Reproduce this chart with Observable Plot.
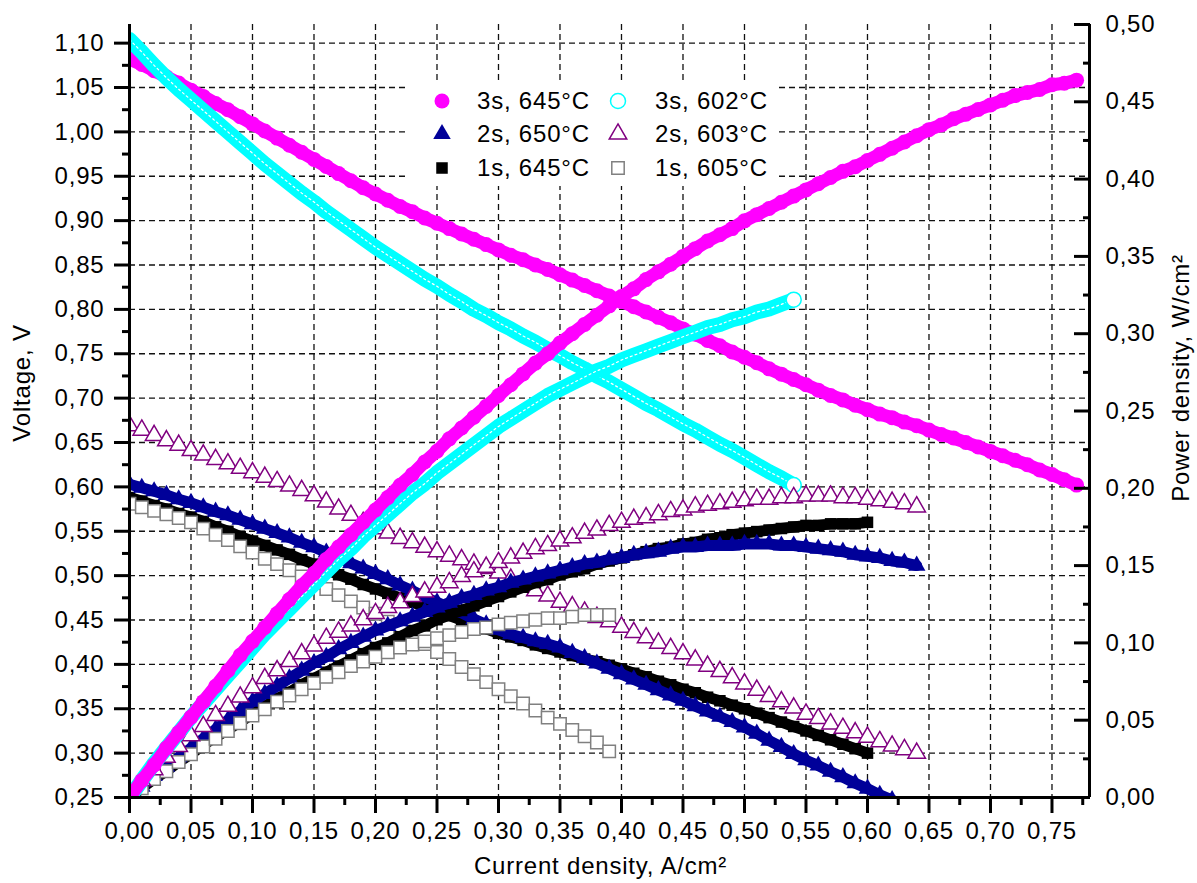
<!DOCTYPE html>
<html>
<head>
<meta charset="utf-8">
<script src="https://cdn.jsdelivr.net/npm/d3@7"></script>
<script src="https://cdn.jsdelivr.net/npm/@observablehq/plot@0.6"></script>
<style>
  body { margin: 0; background: #fff; font-family: "Liberation Sans", Arial, sans-serif; }
  #chart { position: relative; width: 1197px; height: 883px; }
  #chart svg text { letter-spacing: 0.8px; }
  #legend { position: absolute; left: 408px; top: 80px; width: 369px; height: 106px; background: #fff; }
  #legend .item { position: absolute; display: flex; align-items: center; font-size: 24px; letter-spacing: 0.8px; color: #000; white-space: nowrap; }
  #legend svg { display: block; }
</style>
</head>
<body>
<div id="chart"><div id="legend"></div></div>
<script>
// Current density, A/cm2 (measurement steps)
const current = [0.00,0.01,0.02,0.03,0.04,0.05,0.06,0.07,0.08,0.09,0.10,0.11,0.12,0.13,0.14,0.15,0.16,0.17,0.18,0.19,
  0.20,0.21,0.22,0.23,0.24,0.25,0.26,0.27,0.28,0.29,0.30,0.31,0.32,0.33,0.34,0.35,0.36,0.37,0.38,0.39,
  0.40,0.41,0.42,0.43,0.44,0.45,0.46,0.47,0.48,0.49,0.50,0.51,0.52,0.53,0.54,0.55,0.56,0.57,0.58,0.59,
  0.60,0.61,0.62,0.63,0.64,0.65,0.66,0.67,0.68,0.69,0.70,0.71,0.72,0.73,0.74,0.75,0.76,0.77];

// 3s, 645°C
const v3s645 = [1.082,1.076,1.069,1.062,1.055,1.047,1.040,1.032,1.025,1.017,1.009,1.001,0.993,0.985,0.977,0.969,0.961,0.953,0.945,0.937,
  0.930,0.923,0.916,0.910,0.903,0.897,0.891,0.885,0.879,0.873,0.867,0.861,0.856,0.850,0.845,0.839,0.833,0.827,0.821,0.815,
  0.809,0.803,0.797,0.791,0.785,0.778,0.772,0.765,0.759,0.752,0.746,0.740,0.733,0.727,0.721,0.715,0.709,0.703,0.698,0.692,
  0.687,0.682,0.678,0.673,0.669,0.664,0.659,0.655,0.650,0.645,0.640,0.635,0.630,0.625,0.619,0.614,0.608,0.602];
const p3s645 = [0.000,0.011,0.021,0.032,0.042,0.052,0.062,0.072,0.082,0.092,0.101,0.110,0.119,0.128,0.137,0.145,0.154,0.162,0.170,0.178,
  0.186,0.194,0.202,0.209,0.217,0.224,0.232,0.239,0.246,0.253,0.260,0.267,0.274,0.281,0.287,0.294,0.300,0.306,0.312,0.318,
  0.324,0.329,0.335,0.340,0.345,0.350,0.355,0.360,0.364,0.368,0.373,0.377,0.381,0.385,0.389,0.393,0.397,0.401,0.405,0.408,
  0.412,0.416,0.420,0.424,0.428,0.432,0.435,0.439,0.442,0.445,0.448,0.451,0.454,0.456,0.458,0.461,0.462,0.464];

// 3s, 602°C
const v3s602 = [1.104,1.090,1.075,1.061,1.048,1.036,1.024,1.012,1.000,0.988,0.976,0.964,0.953,0.942,0.931,0.921,0.910,0.900,0.890,0.880,
  0.870,0.861,0.852,0.843,0.834,0.826,0.817,0.809,0.800,0.793,0.785,0.778,0.770,0.763,0.755,0.748,0.740,0.733,0.725,0.718,
  0.710,0.702,0.694,0.687,0.679,0.671,0.664,0.656,0.648,0.641,0.633,0.625,0.617,0.610,0.602];
const p3s602 = [0.000,0.011,0.022,0.032,0.042,0.052,0.061,0.070,0.079,0.088,0.097,0.106,0.114,0.122,0.130,0.138,0.146,0.154,0.161,0.169,
  0.176,0.183,0.190,0.197,0.203,0.210,0.216,0.222,0.228,0.234,0.240,0.245,0.250,0.255,0.260,0.264,0.268,0.272,0.276,0.279,
  0.283,0.286,0.289,0.292,0.295,0.298,0.301,0.304,0.306,0.309,0.311,0.314,0.316,0.319,0.322];

// 2s, 650°C
const v2s650 = [0.603,0.599,0.595,0.591,0.586,0.582,0.577,0.572,0.568,0.563,0.558,0.553,0.548,0.543,0.537,0.532,0.526,0.520,0.514,0.508,
  0.502,0.496,0.489,0.483,0.476,0.470,0.464,0.458,0.451,0.445,0.439,0.434,0.430,0.426,0.423,0.419,0.413,0.407,0.401,0.395,
  0.389,0.383,0.377,0.371,0.365,0.359,0.353,0.347,0.341,0.335,0.329,0.322,0.314,0.307,0.299,0.292,0.286,0.279,0.273,0.266,
  0.260,0.253,0.247,0.240,0.234];
const p2s650 = [0.000,0.007,0.014,0.020,0.026,0.032,0.038,0.044,0.050,0.056,0.062,0.067,0.072,0.077,0.082,0.087,0.091,0.096,0.100,0.104,
  0.108,0.111,0.114,0.117,0.120,0.123,0.126,0.129,0.131,0.134,0.136,0.139,0.141,0.143,0.145,0.147,0.149,0.151,0.152,0.154,
  0.155,0.157,0.158,0.159,0.161,0.162,0.162,0.163,0.163,0.163,0.164,0.164,0.164,0.163,0.163,0.162,0.161,0.160,0.159,0.157,
  0.156,0.155,0.153,0.152,0.150];

// 2s, 603°C
const v2s603 = [0.669,0.664,0.658,0.652,0.647,0.641,0.636,0.631,0.626,0.621,0.616,0.611,0.606,0.601,0.596,0.590,0.583,0.575,0.568,0.560,
  0.553,0.548,0.542,0.537,0.532,0.527,0.522,0.518,0.513,0.508,0.503,0.496,0.490,0.483,0.477,0.470,0.465,0.459,0.453,0.448,
  0.442,0.436,0.430,0.424,0.418,0.412,0.405,0.398,0.392,0.385,0.378,0.371,0.364,0.358,0.351,0.344,0.339,0.333,0.328,0.323,
  0.318,0.313,0.308,0.304,0.300];
const p2s603 = [0.003,0.011,0.018,0.026,0.033,0.040,0.046,0.053,0.059,0.065,0.071,0.077,0.082,0.088,0.093,0.098,0.103,0.107,0.111,0.115,
  0.119,0.123,0.126,0.130,0.133,0.136,0.139,0.143,0.146,0.149,0.152,0.155,0.158,0.161,0.163,0.166,0.168,0.171,0.173,0.176,
  0.178,0.180,0.181,0.183,0.185,0.186,0.188,0.189,0.190,0.191,0.192,0.193,0.193,0.194,0.194,0.195,0.195,0.195,0.194,0.194,
  0.193,0.192,0.191,0.190,0.188];

// 1s, 645°C
const v1s645 = [0.588,0.584,0.579,0.575,0.570,0.566,0.561,0.555,0.550,0.544,0.539,0.534,0.529,0.524,0.518,0.513,0.507,0.501,0.496,0.490,
  0.485,0.480,0.475,0.470,0.465,0.460,0.455,0.450,0.445,0.440,0.435,0.431,0.427,0.422,0.418,0.414,0.410,0.406,0.403,0.399,
  0.395,0.390,0.386,0.381,0.377,0.372,0.368,0.363,0.359,0.354,0.350,0.345,0.340,0.335,0.330,0.325,0.320,0.315,0.310,0.305,
  0.300];
const p1s645 = [0.000,0.006,0.012,0.017,0.023,0.028,0.034,0.039,0.044,0.049,0.054,0.059,0.064,0.068,0.073,0.077,0.081,0.085,0.089,0.093,
  0.097,0.100,0.104,0.108,0.111,0.115,0.118,0.121,0.124,0.127,0.130,0.133,0.136,0.139,0.141,0.144,0.146,0.148,0.151,0.153,
  0.155,0.157,0.159,0.161,0.162,0.164,0.165,0.167,0.168,0.170,0.171,0.172,0.173,0.174,0.175,0.176,0.176,0.177,0.177,0.177,
  0.178];

// 1s, 605°C
const v1s605 = [0.581,0.577,0.573,0.569,0.565,0.560,0.553,0.546,0.540,0.533,0.526,0.519,0.513,0.506,0.499,0.492,0.485,0.478,0.471,0.464,
  0.457,0.448,0.440,0.431,0.423,0.414,0.406,0.397,0.389,0.380,0.372,0.364,0.356,0.348,0.340,0.333,0.326,0.319,0.312,0.302];
const p1s605 = [0.000,0.006,0.012,0.017,0.023,0.028,0.033,0.038,0.043,0.048,0.053,0.057,0.062,0.066,0.070,0.074,0.078,0.081,0.085,0.088,
  0.091,0.094,0.097,0.099,0.101,0.103,0.105,0.107,0.109,0.110,0.112,0.113,0.114,0.115,0.116,0.116,0.117,0.118,0.118,0.118];

// Series labels in legend order (left column, then right column)
const labels = ["3s, 645°C", "2s, 650°C", "1s, 645°C", "3s, 602°C", "2s, 603°C", "1s, 605°C"];

// Axis ticks
const xTicks = [0.00,0.05,0.10,0.15,0.20,0.25,0.30,0.35,0.40,0.45,0.50,0.55,0.60,0.65,0.70,0.75];
const vTicks = [0.25,0.30,0.35,0.40,0.45,0.50,0.55,0.60,0.65,0.70,0.75,0.80,0.85,0.90,0.95,1.00,1.05,1.10];
const pTicks = [0.00,0.05,0.10,0.15,0.20,0.25,0.30,0.35,0.40,0.45,0.50];

const xDomain = [0, 0.7805];
const vDomain = [0.25, 1.121];
const pDomain = [0, 0.5];
// power is drawn on the voltage scale through this mapping, and the right axis maps it back
const pToV = d3.scaleLinear(pDomain, vDomain);

const fmt = d => d.toFixed(2).replace(".", ",");

const series = [
  {label: labels[0], v: v3s645, p: p3s645, symbol: "circle",   color: "#ff00ff", r: 7.5, hollow: false},
  {label: labels[3], v: v3s602, p: p3s602, symbol: "circle",   color: "#00ffff", r: 7.5, hollow: true, band: true},
  {label: labels[1], v: v2s650, p: p2s650, symbol: "triangle", color: "#000099", r: 6.5, hollow: false},
  {label: labels[4], v: v2s603, p: p2s603, symbol: "triangle", color: "#800080", r: 6.5, hollow: true},
  {label: labels[2], v: v1s645, p: p1s645, symbol: "square",   color: "#000000", r: 6.5, hollow: false},
  {label: labels[5], v: v1s605, p: p1s605, symbol: "square",   color: "#808080", r: 7,   hollow: true}
];
series.forEach(s => {
  s.rows = s.v.map((V, i) => ({I: current[i], V, P: s.p[i]}));
});

function seriesMarks(s, yAcc) {
  const out = [];
  if (!s.hollow) {
    out.push(Plot.line(s.rows, {x: "I", y: yAcc, stroke: s.color, strokeWidth: s.symbol === "circle" ? 13 : 11, clip: true}));
    out.push(Plot.dot(s.rows, {x: "I", y: yAcc, symbol: s.symbol, r: s.r, fill: s.color, stroke: "none", clip: true}));
  } else if (s.band) {
    out.push(Plot.line(s.rows, {x: "I", y: yAcc, stroke: s.color, strokeWidth: 15, clip: true}));
    out.push(Plot.line(s.rows, {x: "I", y: yAcc, stroke: "#ffffff", strokeWidth: 1.2, strokeDasharray: "2,3", clip: true}));
    out.push(Plot.dot(s.rows.slice(-1), {x: "I", y: yAcc, symbol: s.symbol, r: s.r, fill: "#ffffff", stroke: s.color, strokeWidth: 1.5, clip: true}));
  } else {
    out.push(Plot.dot(s.rows, {x: "I", y: yAcc, symbol: s.symbol, r: s.r, fill: "#ffffff", stroke: s.color, strokeWidth: 1.5, clip: true}));
  }
  return out;
}

// drawing order: voltage curves first, then power curves
const vOrder = [4, 2, 5, 3, 0, 1];
const pOrder = [4, 2, 5, 3, 1, 0];

const gridStyle = {stroke: "#111", strokeOpacity: 1, strokeWidth: 1.3, strokeDasharray: "6,4"};
const minorX = xTicks.map(t => t + 0.025).filter(t => t < xDomain[1]);
const minorV = vTicks.map(t => t + 0.025).filter(t => t <= vDomain[1]);
const minorP = pTicks.slice(0, -1).map(t => t + 0.025);

const chart = Plot.plot({
  width: 1197,
  height: 883,
  marginLeft: 129,
  marginRight: 108,
  marginTop: 24,
  marginBottom: 86,
  x: {domain: xDomain},
  y: {domain: vDomain},
  style: {fontFamily: "'Liberation Sans', Arial, sans-serif", fontSize: "24px", color: "#000", background: "#fff", overflow: "visible"},
  marks: [
    Plot.gridX(xTicks.slice(1), gridStyle),
    Plot.gridY(vTicks.slice(1), gridStyle),
    ...vOrder.flatMap(i => seriesMarks(series[i], "V")),
    ...pOrder.flatMap(i => seriesMarks(series[i], d => pToV(d.P))),
    // frame lines
    Plot.ruleX([xDomain[0]], {strokeWidth: 3}),
    Plot.ruleX([xDomain[1]], {strokeWidth: 3}),
    Plot.ruleY([vDomain[0]], {strokeWidth: 3}),
    // bottom axis
    Plot.axisX(xTicks, {anchor: "bottom", tickSize: 16, tickPadding: 8, strokeWidth: 3, tickFormat: fmt, label: null}),
    Plot.axisX(minorX, {anchor: "bottom", tickSize: 8, strokeWidth: 3, tickFormat: () => "", label: null}),
    // left axis
    Plot.axisY(vTicks, {anchor: "left", tickSize: 15, tickPadding: 10, strokeWidth: 3, tickFormat: fmt, label: null}),
    Plot.axisY(minorV, {anchor: "left", tickSize: 7, strokeWidth: 3, tickFormat: () => "", label: null}),
    // right axis: inward ticks, labels outside
    Plot.axisY(pTicks.map(pToV), {anchor: "right", tickSize: 16, dx: -16, strokeWidth: 3, tickFormat: () => "", label: null}),
    Plot.axisY(minorP.map(pToV), {anchor: "right", tickSize: 7, dx: -7, strokeWidth: 3, tickFormat: () => "", label: null}),
    Plot.axisY(pTicks.map(pToV), {anchor: "right", tickSize: 0, tickPadding: 16, tickFormat: d => fmt(pToV.invert(d)), label: null}),
    // axis titles
    Plot.text(["Voltage, V"], {frameAnchor: "left", textAnchor: "middle", dx: -107, dy: -28, rotate: -90, fontSize: 24}),
    Plot.text(["Power density, W/cm²"], {frameAnchor: "right", textAnchor: "middle", dx: 92, dy: -33, rotate: -90, fontSize: 24}),
    Plot.text(["Current density, A/cm²"], {frameAnchor: "bottom", textAnchor: "middle", dx: -9, dy: 76, fontSize: 24})
  ]
});
document.getElementById("chart").prepend(chart);

// legend inside the plot area
const legend = document.getElementById("legend");
const slots = [
  {s: series[0], mx: 441.7, tx: 477, cy: 101}, {s: series[2], mx: 441.7, tx: 477, cy: 134}, {s: series[4], mx: 441.7, tx: 477, cy: 168},
  {s: series[1], mx: 618, tx: 655, cy: 101}, {s: series[3], mx: 618, tx: 655, cy: 134}, {s: series[5], mx: 618, tx: 655, cy: 168}
];
const box = {left: 408, top: 80};
const sym = {circle: d3.symbolCircle, triangle: d3.symbolTriangle, square: d3.symbolSquare};
for (const {s, mx, tx, cy} of slots) {
  const item = document.createElement("div");
  item.className = "item";
  item.style.left = (mx - 12 - box.left) + "px";
  item.style.top = (cy - 14 - box.top) + "px";
  item.style.height = "28px";
  const svg = d3.create("svg").attr("width", 24).attr("height", 24).attr("viewBox", "-12 -12 24 24")
    .style("margin-right", (tx - mx - 12) + "px");
  svg.append("path")
    .attr("d", d3.symbol(sym[s.symbol], Math.PI * s.r * s.r)())
    .attr("fill", s.hollow ? "#fff" : s.color)
    .attr("stroke", s.hollow ? s.color : "none")
    .attr("stroke-width", 1.5);
  item.append(svg.node());
  const span = document.createElement("span");
  span.textContent = s.label;
  item.append(span);
  legend.append(item);
}
</script>
</body>
</html>
